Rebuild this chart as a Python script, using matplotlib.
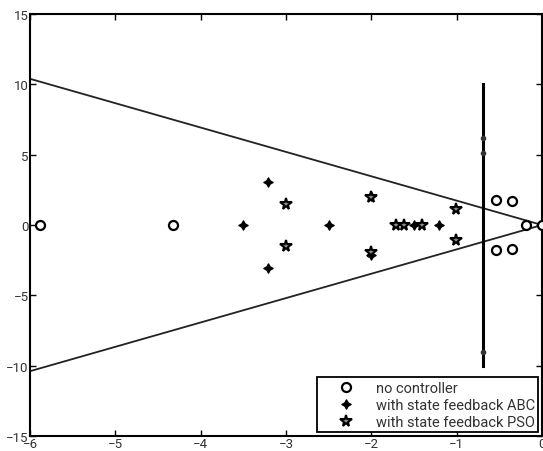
import numpy as np
import matplotlib
matplotlib.use("Agg")
import matplotlib.pyplot as plt

# no controller poles
nc_re = [-5.88, -4.32, -0.54, -0.54, -0.355, -0.355, -0.19, 0.0]
nc_im = [0.0, 0.0, 1.80, -1.80, 1.68, -1.68, 0.0, 0.0]

# state feedback ABC poles
abc_re = [-3.21, -3.21, -3.5, -2.5, -2.0, -2.0, -1.5, -1.21]
abc_im = [3.05, -3.05, 0.0, 0.0, 2.05, -2.1, 0.0, 0.0]

# state feedback PSO poles
pso_re = [-3.0, -3.0, -2.0, -2.0, -1.71, -1.62, -1.41, -1.01, -1.01]
pso_im = [1.52, -1.52, 1.97, -1.9, 0.0, 0.0, 0.0, 1.12, -1.08]

# damping boundary (60 degree lines) and decay-rate boundary
cone_x = [-6.0, 0.0]
cone_slope = 1.732
vline_x = -0.69
vline_y = [-10.0, 10.0]
vline_dots = [6.2, 5.1, -9.0]

xticks = [-6, -5, -4, -3, -2, -1, 0]
yticks = [-15, -10, -5, 0, 5, 10, 15]

plt.rcParams['font.family'] = ['Roboto', 'DejaVu Sans']

fig = plt.figure(figsize=(5.43, 4.52), dpi=100)
ax = fig.add_axes([30/543, 15/452, 512/543, 422/452])

cx = np.array(cone_x)
ax.plot(cx, -cone_slope*cx, color='#222222', lw=1.3, zorder=2)
ax.plot(cx, cone_slope*cx, color='#222222', lw=1.3, zorder=2)
ax.plot([vline_x, vline_x], vline_y, color='black', lw=2.2, zorder=2)
ax.plot([vline_x]*len(vline_dots), vline_dots, ls='none', marker='o',
        ms=3, color='#333333', zorder=3)

ax.plot(nc_re, nc_im, ls='none', marker='o', ms=6.5, mfc='white',
        mec='black', mew=1.6, label='no controller', zorder=4)
ax.plot(abc_re, abc_im, ls='none', marker=(4, 1, 0), ms=7, mfc='black',
        mec='black', mew=0.8, label='with state feedback ABC', zorder=4)
ax.plot(pso_re, pso_im, ls='none', marker='*', ms=8.5, mfc='#888888',
        mec='black', mew=1.5, label='with state feedback PSO', zorder=5)

ax.set_xlim(-6, 0)
ax.set_ylim(-15, 15)
ax.set_xticks(xticks)
ax.set_yticks(yticks)
ax.tick_params(direction='in', top=True, right=True, length=4, width=1,
               labelsize=9.5, labelcolor='#333333', pad=1)
for s in ax.spines.values():
    s.set_linewidth(1.5)

leg = ax.legend(loc='lower right', fontsize=10.5, frameon=True, fancybox=False,
                edgecolor='black', framealpha=1, borderaxespad=0.25,
                handletextpad=0.2, handlelength=3.6, labelspacing=0.2,
                borderpad=0.25)
leg.get_frame().set_linewidth(1.3)
for t in leg.get_texts():
    t.set_color('#333333')

fig.savefig('out.png', dpi=100)
